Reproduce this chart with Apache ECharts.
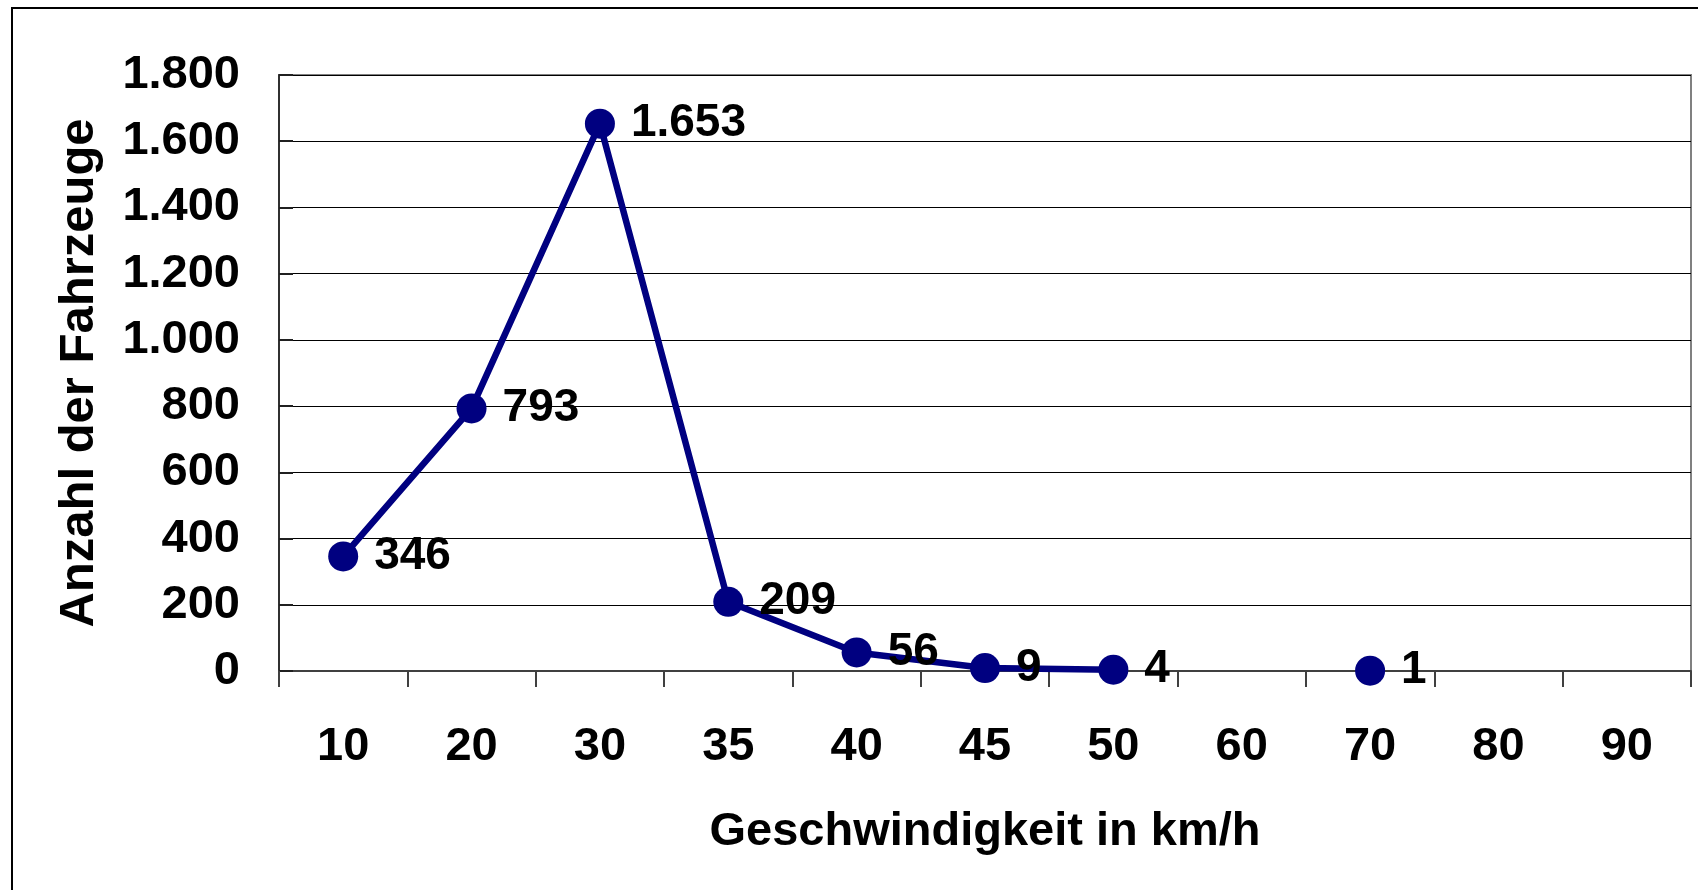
<!DOCTYPE html>
<html>
<head>
<meta charset="utf-8">
<script src="https://cdn.jsdelivr.net/npm/echarts@6/dist/echarts.min.js"></script>
<style>
html, body { margin: 0; padding: 0; background: #fff; }
#frame { position: absolute; left: 11px; top: 7px; width: 1700px; height: 900px; border-left: 2px solid #000; border-top: 2px solid #000; }
#chart { position: absolute; left: 0; top: 0; width: 1698px; height: 890px; }
</style>
</head>
<body>
<div id="frame"></div>
<div id="chart"></div>
<script>
const categories = ['10', '20', '30', '35', '40', '45', '50', '60', '70', '80', '90'];
const counts = [346, 793, 1653, 209, 56, 9, 4, null, 1, null, null];
const xAxisTitle = 'Geschwindigkeit in km/h';
const yAxisTitle = 'Anzahl der Fahrzeuge';

const FONT = "'Liberation Sans', Arial, sans-serif";
function fmt(v) {
  return String(v).replace(/\B(?=(\d{3})+(?!\d))/g, '.');
}

const chart = echarts.init(document.getElementById('chart'), null, { renderer: 'canvas' });
chart.setOption({
  animation: false,
  backgroundColor: 'transparent',
  grid: {
    left: 279, right: 7, top: 75, bottom: 219,
    show: true, borderColor: '#808080', borderWidth: 2, backgroundColor: 'transparent'
  },
  xAxis: {
    type: 'category',
    data: categories,
    boundaryGap: true,
    name: xAxisTitle,
    nameLocation: 'middle',
    nameGap: 138,
    nameTextStyle: { fontFamily: FONT, fontWeight: 'bold', fontSize: 47, color: '#000' },
    axisLine: { lineStyle: { color: '#404040', width: 2 } },
    axisTick: { show: true, inside: false, length: 16, alignWithLabel: false, lineStyle: { color: '#404040', width: 2 } },
    axisLabel: { fontFamily: FONT, fontWeight: 'bold', fontSize: 47, color: '#000', margin: 53, interval: 0 },
    splitLine: { show: false }
  },
  yAxis: {
    type: 'value',
    min: 0, max: 1800, interval: 200,
    name: yAxisTitle,
    nameLocation: 'middle',
    nameRotate: 90,
    nameGap: 175,
    nameTextStyle: { fontFamily: FONT, fontWeight: 'bold', fontSize: 49, color: '#000' },
    axisLine: { show: true, lineStyle: { color: '#303030', width: 2 } },
    axisTick: { show: true, inside: true, length: 14, lineStyle: { color: '#202020', width: 2 } },
    axisLabel: { fontFamily: FONT, fontWeight: 'bold', fontSize: 47, color: '#000', margin: 39, formatter: fmt },
    splitLine: { show: true, lineStyle: { color: '#000', width: 1.2 } }
  },
  series: [{
    type: 'line',
    data: counts,
    connectNulls: false,
    showSymbol: true,
    showAllSymbol: true,
    symbol: 'circle',
    symbolSize: 30,
    itemStyle: { color: '#000080' },
    lineStyle: { color: '#000080', width: 6.5 },
    label: {
      show: true,
      position: 'right',
      distance: 16,
      fontFamily: FONT, fontWeight: 'bold', fontSize: 46, color: '#000',
      formatter: p => fmt(p.value)
    },
    z: 3
  }]
});
</script>
</body>
</html>
